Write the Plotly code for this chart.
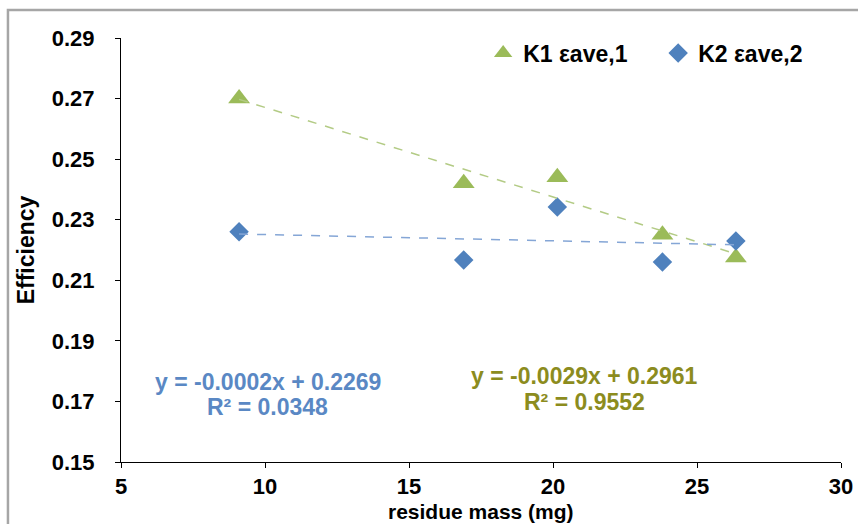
import numpy as np
import plotly.graph_objects as go

# Data
residue_mass = [9.1, 16.9, 20.15, 23.8, 26.35]
k1_eff = [0.270, 0.242, 0.244, 0.225, 0.2175]
k2_eff = [0.226, 0.2167, 0.2342, 0.216, 0.223]
series_names = ["K1 εave,1", "K2 εave,2"]
eq_k1 = ["y = -0.0029x + 0.2961", "R² = 0.9552"]
eq_k2 = ["y = -0.0002x + 0.2269", "R² = 0.0348"]
y_ticks = [0.15, 0.17, 0.19, 0.21, 0.23, 0.25, 0.27, 0.29]
x_ticks = [5, 10, 15, 20, 25, 30]
x_title = "residue mass (mg)"
y_title = "Efficiency"

GREEN = "#9BBB59"
BLUE = "#4F81BD"
FONT = "Liberation Sans, Arial, sans-serif"

x = np.array(residue_mass)
fig = go.Figure()

fig.add_trace(go.Scatter(x=residue_mass, y=k1_eff, mode="markers", name=series_names[0],
                         marker=dict(symbol="triangle-up", size=19, color=GREEN)))
fig.add_trace(go.Scatter(x=residue_mass, y=k2_eff, mode="markers", name=series_names[1],
                         marker=dict(symbol="diamond", size=15, color=BLUE)))

# Linear trendlines fitted from the data
xs = np.array([x.min(), x.max()])
p1 = np.polyfit(x, np.array(k1_eff), 1)
p2 = np.polyfit(x, np.array(k2_eff), 1)
fig.add_trace(go.Scatter(x=xs, y=np.polyval(p1, xs), mode="lines", showlegend=False,
                         line=dict(color="#B3CB85", width=1.5, dash="dash"), hoverinfo="skip"))
fig.add_trace(go.Scatter(x=xs, y=np.polyval(p2, xs), mode="lines", showlegend=False,
                         line=dict(color="#85A6D6", width=1.5, dash="dash"), hoverinfo="skip"))

eq_font_blue = dict(family=FONT, size=23, color="#5A88C4", weight="bold")
eq_font_green = dict(family=FONT, size=23, color="#8C8C1E", weight="bold")
fig.add_annotation(x=10.10, y=0.1763, xref="x", yref="y", text=eq_k2[0], showarrow=False, font=eq_font_blue)
fig.add_annotation(x=10.10, y=0.1680, xref="x", yref="y", text=eq_k2[1], showarrow=False, font=eq_font_blue)
fig.add_annotation(x=21.1, y=0.1783, xref="x", yref="y", text=eq_k1[0], showarrow=False, font=eq_font_green)
fig.add_annotation(x=21.1, y=0.1698, xref="x", yref="y", text=eq_k1[1], showarrow=False, font=eq_font_green)

# x-axis title, placed at the very bottom like the reference
fig.add_annotation(x=0.5, y=-0.1455, xref="paper", yref="paper", text=x_title, showarrow=False,
                   xanchor="center", yanchor="bottom", borderpad=0,
                   font=dict(family=FONT, size=21, color="black", weight="bold"))

# chart-area border (Excel style)
fig.add_shape(type="rect", xref="paper", yref="paper", x0=-0.157, x1=1.2, y0=-0.4, y1=1.066,
              line=dict(color="#A6A6A6", width=2.5), fillcolor="rgba(0,0,0,0)", layer="below")

fig.update_layout(
    width=858, height=524,
    margin=dict(l=121, r=17, t=38, b=62),
    paper_bgcolor="white", plot_bgcolor="white",
    font=dict(family=FONT, color="black"),
    showlegend=True,
    legend=dict(orientation="h", x=0.503, y=1.015, xanchor="left", yanchor="top",
                font=dict(family=FONT, size=23, color="black", weight="bold"),
                entrywidth=130, bgcolor="rgba(0,0,0,0)"),
    xaxis=dict(range=[5, 30], tickvals=x_ticks, ticks="outside", ticklen=5, tickcolor="black",
               showline=True, linecolor="black", linewidth=1, showgrid=False, zeroline=False,
               automargin=False, ticklabelstandoff=0,
               tickfont=dict(family=FONT, size=22, color="black", weight="bold")),
    yaxis=dict(range=[0.15, 0.29], tickvals=y_ticks, tickformat=".2f", ticks="outside", ticklen=5,
               tickcolor="black", showline=True, linecolor="black", linewidth=1, showgrid=False,
               zeroline=False, ticklabelstandoff=16, automargin=False,
               tickfont=dict(family=FONT, size=22, color="black", weight="bold"),
               title=dict(text=y_title, standoff=10,
                          font=dict(family=FONT, size=23, color="black", weight="bold"))),
)

fig.write_html("out.html", config={"displayModeBar": False},
               post_script="document.body.style.margin='0';")
